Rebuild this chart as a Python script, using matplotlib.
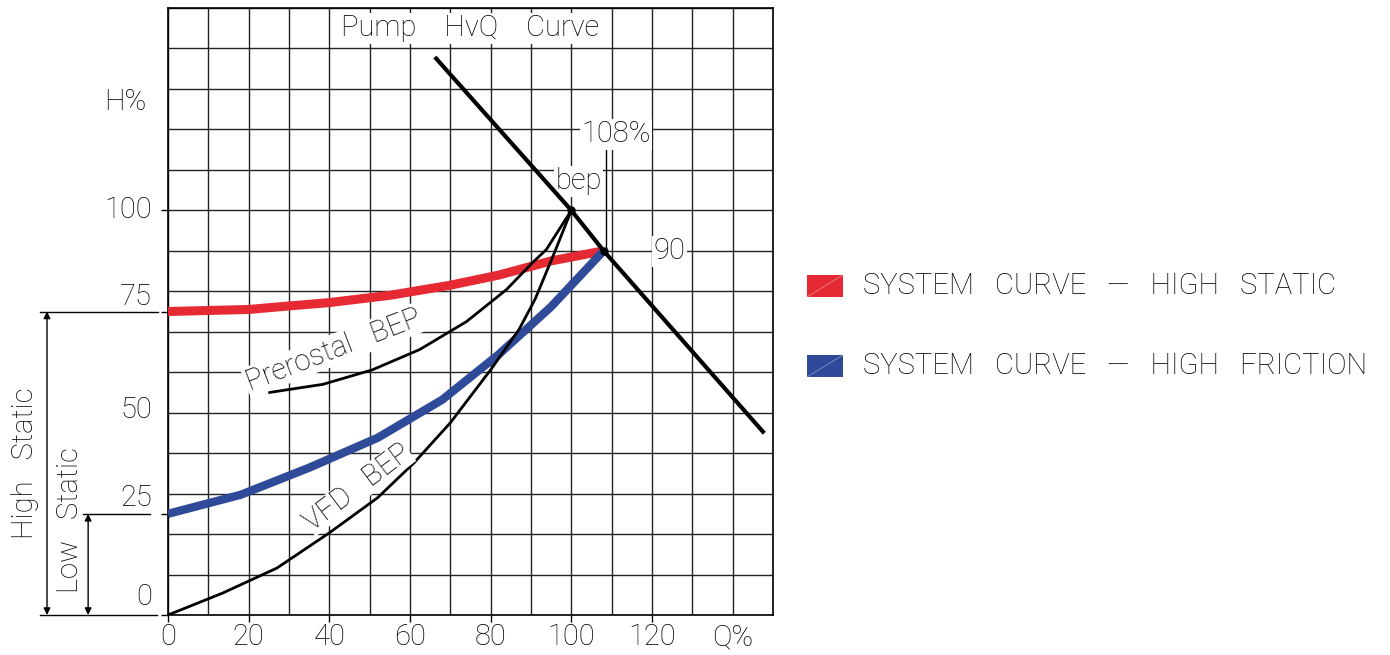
import matplotlib.pyplot as plt
from matplotlib.patches import Rectangle

# punto de operacao: vazao (Q%) x altura (H%)
static_q = [0, 20, 28, 40, 55, 70, 82, 95, 108]
static_h = [75, 75.5, 76.2, 77.2, 79, 81.5, 84, 87.5, 90]
friction_q = [0, 18, 35, 52, 68, 82, 95, 108]
friction_h = [25, 29.7, 36.4, 43.8, 53.2, 64.4, 76.2, 90]
vfd_q = [0, 13.5, 27, 40, 52, 61, 70, 80, 87, 91, 96, 100]
vfd_h = [0, 5.4, 11.6, 20.3, 29, 37.6, 47.5, 60.6, 70.5, 78, 90, 100]
prerostal_q = [25.2, 38.4, 50.7, 62.4, 74, 83.9, 90.4, 93.8, 100]
prerostal_h = [55, 57, 60.6, 65.6, 72.5, 80.4, 87.1, 90.3, 100]
pump_q = [66.5, 100, 108, 147.5]
pump_h = [137.5, 100, 90, 45.3]

q_ticks = [0, 20, 40, 60, 80, 100, 120]
q_labels = ["0", "20", "40", "60", "80", "100", "120"]
h_ticks = [0, 25, 50, 75, 100]
h_labels = ["0", "25", "50", "75", "100"]

legend_labels = ["SYSTEM   CURVE   \u2014   HIGH   STATIC", "SYSTEM   CURVE   \u2014   HIGH   FRICTION"]
RED = "#e52a33"
BLUE = "#2f4a98"

plt.rcParams['font.family'] = ['Roboto', 'DejaVu Sans']
FS = 21
fw = 'light'

fig = plt.figure(figsize=(13.9, 6.55), dpi=100)
ax = fig.add_axes([168/1390, 40/655, 605/1390, 607/655])
ax.set_xlim(0, 150)
ax.set_ylim(0, 150)

for v in range(0, 151, 10):
    ax.axvline(v, color='#222222', lw=1.0, zorder=1)
    ax.axhline(v, color='#222222', lw=1.0, zorder=1)
for s in ax.spines.values():
    s.set_linewidth(1.2)

ax.set_xticks(q_ticks)
ax.set_yticks([0, 25, 75, 100])
ax.tick_params(labelbottom=False, labelleft=False, length=5, width=1, direction='out')

# curvas
ax.plot(static_q, static_h, color=RED, lw=6.5, solid_capstyle='butt', zorder=3)
ax.plot(friction_q, friction_h, color=BLUE, lw=6, solid_capstyle='butt', zorder=3)
ax.plot(vfd_q, vfd_h, color='black', lw=2, zorder=4)
ax.plot(prerostal_q, prerostal_h, color='black', lw=2, zorder=4)
ax.plot(pump_q, pump_h, color='black', lw=3, zorder=5)
ax.plot([100, 108], [100, 90], 'o', color='black', ms=5, zorder=6)
ax.plot([108.5, 108.5], [90, 117], color='black', lw=1, zorder=2)

box = dict(facecolor='white', edgecolor='none', pad=1)
ax.text(75, 145, "Pump    HvQ    Curve", fontsize=FS, fontweight=fw, ha='center', va='center', bbox=box, zorder=7)
ax.text(111.1, 118.8, "108%", fontsize=FS, fontweight=fw, ha='center', va='center', bbox=box, zorder=7)
ax.text(101.8, 107.2, "bep", fontsize=FS, fontweight=fw, ha='center', va='center', bbox=box, zorder=4.5)
ax.text(124.3, 89.9, "90", fontsize=FS, fontweight=fw, ha='center', va='center', bbox=box, zorder=7)
ax.text(41, 65.5, "Prerostal   BEP", fontsize=FS, fontweight=fw, ha='center', va='center',
        rotation=21, rotation_mode='anchor', bbox=box, zorder=7)
ax.text(47, 31.5, "VFD   BEP", fontsize=FS, fontweight=fw, ha='center', va='center',
        rotation=37, rotation_mode='anchor', bbox=dict(facecolor='white', edgecolor='none', pad=0), zorder=7)

# rotulos dos eixos
for q, lab in zip(q_ticks, q_labels):
    ax.text(q, -5.5, lab, fontsize=FS, fontweight=fw, ha='center', va='center', clip_on=False)
ax.text(140, -5.5, "Q%", fontsize=FS, fontweight=fw, ha='center', va='center', clip_on=False)
h_pos = [4.5, 29, 50.7, 78.7, 100]
for y, lab in zip(h_pos, h_labels):
    ax.text(-4, y, lab, fontsize=FS, fontweight=fw, ha='right', va='center', clip_on=False)
ax.text(-10.6, 126.7, "H%", fontsize=FS, fontweight=fw, ha='center', va='center', clip_on=False)

# cotas de altura estatica
for y, x0, x1 in [(75, -31.7, -2.5), (25, -21, -4.5), (0, -31.7, -2.7)]:
    ax.plot([x0, x1], [y, y], color='black', lw=1, clip_on=False)
ax.annotate("", xy=(-30, 0), xytext=(-30, 75), annotation_clip=False,
            arrowprops=dict(arrowstyle='<|-|>', color='black', lw=1, mutation_scale=10, shrinkA=0, shrinkB=0))
ax.annotate("", xy=(-19.8, 0), xytext=(-19.8, 25), annotation_clip=False,
            arrowprops=dict(arrowstyle='<|-|>', color='black', lw=1, mutation_scale=10, shrinkA=0, shrinkB=0))
ax.text(-35.4, 37.6, "High   Static", fontsize=FS, fontweight=fw, ha='center', va='center', rotation=90, clip_on=False)
ax.text(-24.3, 23.5, "Low   Static", fontsize=FS, fontweight=fw, ha='center', va='center', rotation=90, clip_on=False)

# legenda
for (ypx, cor, lab) in [(286, RED, legend_labels[0]), (366, BLUE, legend_labels[1])]:
    fig.patches.append(Rectangle((807/1390, (655-ypx-11)/655), 36/1390, 22/655,
                                 transform=fig.transFigure, facecolor=cor, edgecolor='none'))
    fig.lines.append(plt.Line2D([807/1390, 843/1390], [(655-ypx-11)/655, (655-ypx+11)/655],
                                transform=fig.transFigure, color='white', lw=0.4, alpha=0.6))
    fig.text(863/1390, (655-ypx)/655, lab, fontsize=FS, fontweight=fw, ha='left', va='center')

fig.savefig("out.png", dpi=100)
